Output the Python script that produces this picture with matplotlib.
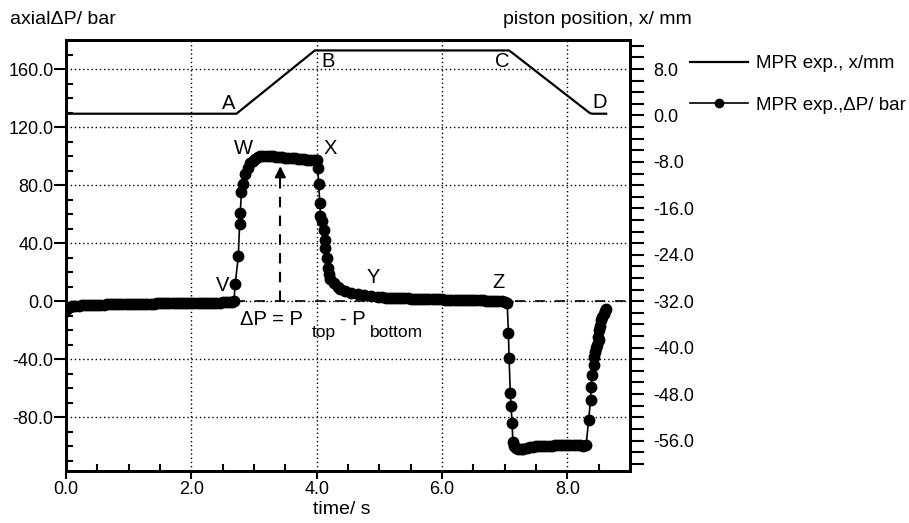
import numpy as np
import matplotlib
matplotlib.use("Agg")
import matplotlib.pyplot as plt
from matplotlib.ticker import MultipleLocator, FormatStrFormatter

plt.rcParams['font.family'] = ['Liberation Sans', 'DejaVu Sans']

# pressure difference across the sample (time in s, dP in bar)
t_dp = [0.00, 0.03, 0.06, 0.10, 0.15, 0.20, 0.25, 0.30, 0.35, 0.40, 0.45, 0.50,
        0.55, 0.60, 0.65, 0.70, 0.75, 0.80, 0.85, 0.90, 0.95, 1.00, 1.05, 1.10,
        1.15, 1.20, 1.25, 1.30, 1.35, 1.40, 1.45, 1.50, 1.55, 1.60, 1.65, 1.70,
        1.75, 1.80, 1.85, 1.90, 1.95, 2.00, 2.05, 2.10, 2.15, 2.20, 2.25, 2.30,
        2.35, 2.40, 2.45, 2.50, 2.55, 2.60, 2.65, 2.68,
        2.70, 2.75, 2.77, 2.78, 2.80, 2.83, 2.85, 2.90, 2.94, 2.98, 3.02, 3.07,
        3.10, 3.15, 3.20, 3.25, 3.30, 3.35, 3.40, 3.45, 3.50, 3.55, 3.60, 3.65,
        3.70, 3.75, 3.80, 3.85, 3.90, 3.95, 4.00,
        4.02, 4.03, 4.05, 4.06, 4.09, 4.11, 4.13, 4.14, 4.16, 4.18, 4.19, 4.22,
        4.27, 4.34, 4.38, 4.46, 4.54, 4.66, 4.75, 4.86, 4.98,
        5.05, 5.10, 5.15, 5.20, 5.25, 5.30, 5.35, 5.40, 5.45, 5.50, 5.55, 5.60,
        5.65, 5.70, 5.75, 5.80, 5.85, 5.90, 5.95, 6.00, 6.05, 6.10, 6.15, 6.20,
        6.25, 6.30, 6.35, 6.40, 6.45, 6.50, 6.55, 6.60, 6.65, 6.70, 6.75, 6.80,
        6.85, 6.90, 6.95, 7.00, 7.04,
        7.06, 7.07, 7.09, 7.10, 7.12, 7.13, 7.15, 7.18, 7.22, 7.26, 7.30, 7.35,
        7.40, 7.45, 7.50, 7.55, 7.60, 7.65, 7.70, 7.75, 7.80, 7.85, 7.90, 7.95,
        8.00, 8.05, 8.10, 8.15, 8.20, 8.25, 8.30,
        8.34, 8.37, 8.38, 8.40, 8.42, 8.43, 8.44, 8.46, 8.47, 8.49, 8.50, 8.51,
        8.52, 8.54, 8.56, 8.58, 8.60, 8.62]
dp = [-6.0, -5.0, -4.2, -3.6, -3.2, -3.0, -2.8, -2.7, -2.6, -2.5, -2.5, -2.4,
      -2.3, -2.3, -2.2, -2.2, -2.1, -2.1, -2.0, -2.0, -1.9, -1.9, -1.8, -1.8,
      -1.8, -1.7, -1.7, -1.6, -1.6, -1.6, -1.5, -1.5, -1.5, -1.4, -1.4, -1.4,
      -1.3, -1.3, -1.3, -1.2, -1.2, -1.2, -1.1, -1.1, -1.1, -1.0, -1.0, -1.0,
      -0.9, -0.9, -0.9, -0.8, -0.8, -0.7, -0.5, 0.0,
      12.0, 31.0, 53.0, 61.0, 75.0, 81.0, 88.0, 92.0, 95.0, 96.5, 98.0, 99.5,
      100.0, 100.0, 100.0, 100.0, 99.8, 99.6, 99.4, 99.2, 99.0, 98.8, 98.6, 98.4,
      98.2, 98.0, 97.8, 97.6, 97.4, 97.2, 97.0,
      92.0, 81.0, 68.0, 59.0, 55.0, 49.0, 42.0, 37.0, 30.0, 23.0, 19.0, 15.0,
      12.5, 9.5, 8.5, 7.0, 6.0, 4.8, 4.0, 3.3, 2.8,
      2.6, 2.5, 2.4, 2.3, 2.2, 2.1, 2.0, 2.0, 1.9, 1.8, 1.7, 1.7,
      1.6, 1.5, 1.5, 1.4, 1.3, 1.3, 1.2, 1.2, 1.1, 1.0, 1.0, 0.9,
      0.9, 0.8, 0.8, 0.7, 0.7, 0.6, 0.6, 0.5, 0.5, 0.4, 0.4, 0.3,
      0.2, 0.1, 0.0, -0.2, -1.0,
      -22.0, -39.0, -63.0, -72.0, -84.0, -97.0, -99.5, -101.0, -101.5, -102.0, -101.5, -101.0,
      -100.5, -100.5, -100.0, -100.0, -100.0, -99.5, -99.5, -99.5, -99.0, -99.0, -99.0, -99.0,
      -99.0, -99.0, -99.0, -99.0, -99.0, -99.5, -99.0,
      -82.0, -68.0, -59.0, -51.0, -44.0, -38.6, -35.0, -32.0, -30.0, -25.0, -27.0, -20.0,
      -17.0, -13.0, -11.0, -8.6, -7.0, -5.5]

# piston position (mm)
t_x = [0.00, 2.72, 3.97, 7.07, 7.12, 8.36, 8.40, 8.62]
x_mm = [0.3, 0.3, 11.2, 11.2, 10.8, 0.4, 0.3, 0.3]

# point labels (time, dP)
point_names = ['A', 'B', 'C', 'D', 'W', 'X', 'V', 'Y', 'Z']
point_t = [2.59, 4.18, 6.96, 8.51, 2.83, 4.21, 2.50, 4.91, 6.90]
point_dp = [136.5, 165.0, 165.0, 137.0, 105.5, 105.5, 11.0, 16.0, 13.0]

arrow_t = 3.42
arrow_top = 95.0

fig = plt.figure(figsize=(9.09, 5.23), dpi=100)
ax = fig.add_axes([66/909, 1-471/523, (630-66)/909, (471-40)/523])
ax2 = ax.twinx()

dp_lo, dp_hi = -117, 180
ax.set_xlim(0, 9)
ax.set_ylim(dp_lo, dp_hi)
ax2.set_ylim(dp_lo/4 - 32, dp_hi/4 - 32)

ax.grid(True, which='major', color='black', linestyle=(0, (1, 2)), linewidth=1)
ax.set_axisbelow(True)

ax.axhline(0, xmin=2.7/9, xmax=1, color='black', linewidth=1.2, dashes=(6, 6), zorder=2)

l_dp, = ax.plot(t_dp, dp, color='black', linewidth=1.2, marker='o', markersize=7.5,
                zorder=3, label='MPR exp.,ΔP/ bar')
l_x, = ax2.plot(t_x, x_mm, color='black', linewidth=1.6, zorder=3,
                label='MPR exp., x/mm')

# dashed arrow for dP
ax.plot([arrow_t, arrow_t], [0, arrow_top - 10], color='black', linewidth=1.5,
        dashes=(5, 4), zorder=2)
ax.annotate('', xy=(arrow_t, arrow_top), xytext=(arrow_t, arrow_top - 11),
            arrowprops=dict(arrowstyle='-|>', color='black', lw=1.5,
                            mutation_scale=16))

for name, tt, pp in zip(point_names, point_t, point_dp):
    ax.text(tt, pp, name, fontsize=14.5, ha='center', va='center')

ax.text(2.77, -16.5, 'ΔP = P', fontsize=14.5, ha='left', va='baseline')
ax.text(3.92, -24.8, 'top', fontsize=12.5, ha='left', va='baseline')
ax.text(4.38, -16.5, '- P', fontsize=14.5, ha='left', va='baseline')
ax.text(4.85, -24.8, 'bottom', fontsize=12.5, ha='left', va='baseline')

# ticks
ax.xaxis.set_major_locator(MultipleLocator(2))
ax.xaxis.set_minor_locator(MultipleLocator(0.5))
ax.xaxis.set_major_formatter(FormatStrFormatter('%.1f'))
ax.set_yticks([-80, -40, 0, 40, 80, 120, 160])
ax.yaxis.set_minor_locator(MultipleLocator(10))
ax.yaxis.set_major_formatter(FormatStrFormatter('%.1f'))
ax.tick_params(axis='both', which='major', direction='out', length=9, width=1.5,
               labelsize=13, pad=1)
ax.tick_params(axis='both', which='minor', direction='in', length=5, width=1.5)
ax.tick_params(axis='y', which='major', pad=0)
ax.tick_params(axis='x', which='major', length=6, pad=1)

ax2.set_yticks([-56, -48, -40, -32, -24, -16, -8, 0, 8])
ax2.yaxis.set_minor_locator(MultipleLocator(2))
ax2.yaxis.set_major_formatter(FormatStrFormatter('%.1f'))
ax2.tick_params(axis='y', which='major', direction='out', length=10, width=1.5,
                labelsize=13, pad=7)
ax2.tick_params(axis='y', which='minor', direction='out', length=10, width=1.5)

for a in (ax, ax2):
    for s in a.spines.values():
        s.set_linewidth(2)

fig.text(342/909, 1-510/523, 'time/ s', fontsize=14, ha='center', va='center')
fig.text(10/909, 1-20/523, 'axialΔP/ bar', fontsize=14, ha='left', va='center')
fig.text(692/909, 1-20/523, 'piston position, x/ mm', fontsize=14, ha='right', va='center')

fig.legend(handles=[l_x, l_dp], loc='upper left', bbox_to_anchor=(690/909, 1-55/523),
           frameon=False, fontsize=13.5, handlelength=3.1, handletextpad=0.4,
           labelspacing=1.3, borderpad=0, borderaxespad=0, numpoints=1,
           markerscale=0.8)

fig.savefig('out.png', dpi=100)
